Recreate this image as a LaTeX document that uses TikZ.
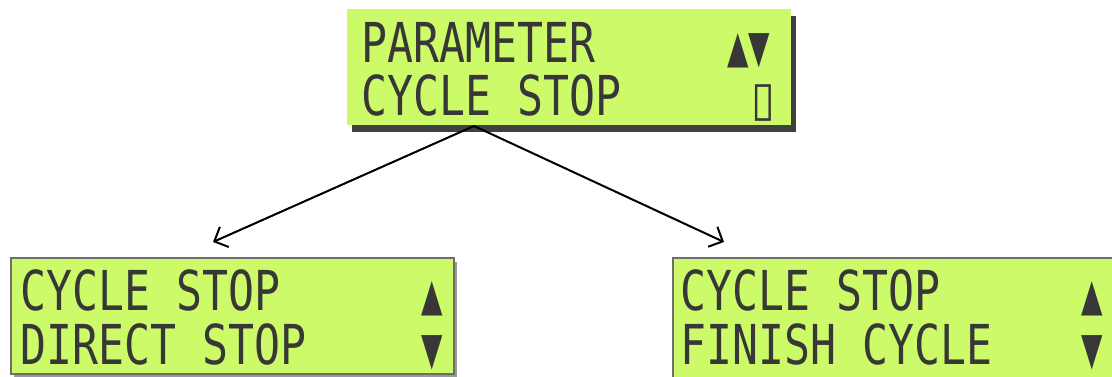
\documentclass[tikz,border=0pt]{standalone}
\usepackage{fontspec}
\usepackage{graphicx}
\usetikzlibrary{arrows.meta,shadows}
\newfontfamily\lcdfont[FakeStretch=0.785]{DejaVu Sans Mono}
\newfontfamily\lcdsymfont{DejaVu Sans}
\newfontfamily\lcdsymbold{DejaVu Sans Bold}
\definecolor{lcdgreen}{RGB}{205,250,105}
\definecolor{lcdtext}{RGB}{55,55,55}
\definecolor{lcdframe}{RGB}{110,110,110}
\begin{document}
\begin{tikzpicture}[x=1pt,y=-1pt,
  topbox/.style={fill=lcdgreen, draw=none, anchor=north west, inner sep=0pt,
    drop shadow={shadow xshift=5pt, shadow yshift=-7pt, opacity=0.75, fill=black}},
  lowbox/.style={fill=lcdgreen, draw=lcdframe, line width=1.5pt, anchor=north west, inner sep=0pt,
    drop shadow={shadow xshift=3pt, shadow yshift=-4pt, opacity=0.4, fill=black}},
  lcdtxt/.style={anchor=base west, inner sep=0pt, text=lcdtext,
    font=\lcdfont\fontsize{55}{60}\selectfont},
  lcdsym/.style={anchor=base west, inner sep=0pt, text=lcdtext,
    font=\lcdsymfont\fontsize{45}{50}\selectfont},
  lcdbox/.style={anchor=base west, inner sep=0pt, text=lcdtext,
    font=\lcdsymbold\fontsize{48}{50}\selectfont},
  link/.style={line width=2pt, -{Straight Barb[length=11pt,width=22pt,line width=2pt]}}
]
\useasboundingbox (0,0) rectangle (1112,377);
% boxes
\node[topbox, minimum width=444pt, minimum height=116pt] (top) at (347,9) {};
\node[lowbox, minimum width=443pt, minimum height=116pt] (left) at (10,257) {};
\node[lowbox, minimum width=460pt, minimum height=130pt] (right) at (672,257) {};
% top box text
\node[lcdtxt] (t1) at (361,63) {PARAMETER};
\node[lcdtxt] (t2) at (361,116) {CYCLE STOP};
\node[lcdsym] (t3) at (727,63) {\scalebox{0.62}[1]{▲}\scalebox{0.62}[1]{▼}};
\node[lcdbox] (t4) at (751,116) {\scalebox{0.9}[1]{▯}};
% left box text
\node[lcdtxt] (l1) at (20,310) {CYCLE STOP};
\node[lcdtxt] (l2) at (20,364) {DIRECT STOP};
\node[lcdsym] (l3) at (421,310) {\scalebox{0.62}[1]{▲}};
\node[lcdsym] (l4) at (421,364) {\scalebox{0.62}[1]{▼}};
% right box text
\node[lcdtxt] (r1) at (680,310) {CYCLE STOP};
\node[lcdtxt] (r2) at (680,364) {FINISH CYCLE};
\node[lcdsym] (r3) at (1081,310) {\scalebox{0.62}[1]{▲}};
\node[lcdsym] (r4) at (1081,364) {\scalebox{0.62}[1]{▼}};
% connectors
\coordinate (src) at (474,126);
\coordinate (lt) at (213,242);
\coordinate (rt) at (724,242);
\draw[link] (src) -- (lt);
\draw[link] (src) -- (rt);
\end{tikzpicture}
\end{document}
